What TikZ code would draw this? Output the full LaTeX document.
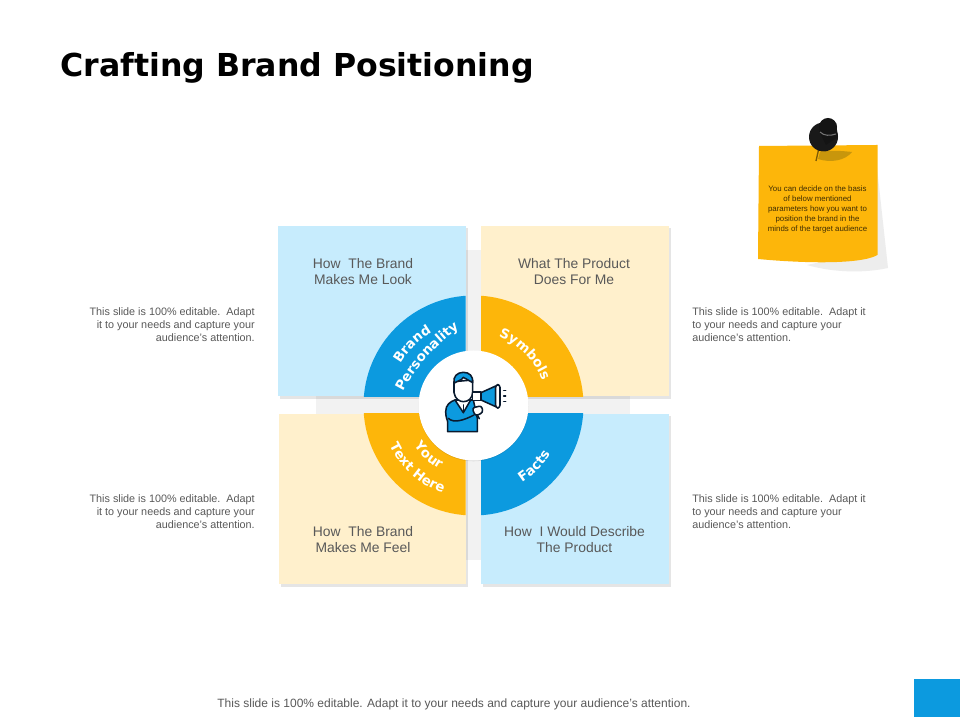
\documentclass[tikz,border=0pt]{standalone}
\usepackage{fontspec}
\setmainfont{Liberation Sans}
\newfontfamily\arcfont{DejaVu Sans}
\usetikzlibrary{calc}
\usetikzlibrary{shadows}
\usetikzlibrary{decorations.text}
\definecolor{skyfill}{HTML}{C7ECFD}
\definecolor{creamfill}{HTML}{FFF0CC}
\definecolor{bluefill}{HTML}{0C9ADF}
\definecolor{amberfill}{HTML}{FDB60A}
\definecolor{pinshade}{HTML}{C8960C}
\definecolor{bandfill}{HTML}{F2F2F2}
\definecolor{bodytext}{HTML}{595959}
\definecolor{iconline}{HTML}{0A1A2E}
\newcommand{\arclabel}[1]{|\bfseries\arcfont\fontsize{10}{12}\selectfont\color{white}|#1}
\begin{document}
\begin{tikzpicture}[x=.75pt,y=.75pt,
	sidetext/.style={font=\fontsize{8.1}{9.75}\selectfont,text=bodytext,inner sep=0pt},
	cardtext/.style={font=\fontsize{10.4}{12}\selectfont,text=bodytext,align=center,inner sep=0pt},
	card/.style={drop shadow={shadow xshift=1.6pt,shadow yshift=-1.6pt,fill=black,opacity=.1}},
	arctext/.style={decorate,decoration={text along path,text align=center,text={#1}}},
	iconpart/.style={draw=iconline,line width=1.15pt,line join=round,line cap=round}]
	\useasboundingbox (0,0) rectangle (960,720);
	\fill[white] (0,0) rectangle (960,720);
	\coordinate (ctr) at (473.5,314.5);
	\node[anchor=base west,inner sep=0pt,font=\arcfont\bfseries\fontsize{23.7}{28}\selectfont] (title) at (60,643) {Crafting Brand Positioning};
	% grey cross behind the cards
	\fill[bandfill] (316,306) rectangle (630,323.5);
	\fill[bandfill] (465,160) rectangle (481,470);
	% cards and their quarter rings
	\foreach \xa/\ya/\xb/\yb/\cardcol/\ringcol in {278/323.5/465.5/494/skyfill/bluefill,481/323.5/669/494/creamfill/amberfill,279/135.5/465.5/306/creamfill/amberfill,481/135.5/669/306/skyfill/bluefill}{
		\fill[\cardcol,card] (\xa,\ya) rectangle (\xb,\yb);
		\begin{scope}
			\clip (\xa,\ya) rectangle (\xb,\yb);
			\fill[\ringcol] (ctr) circle[radius=110];
		\end{scope}
	}
	\fill[white,drop shadow={shadow xshift=0pt,shadow yshift=-.6pt,fill=black,opacity=.1}] (ctr) circle[radius=55];
	% card labels
	\node[cardtext] (look) at (363,448) {How\ \ The Brand\\Makes Me Look};
	\node[cardtext] (does) at (574,448) {What The Product\\Does For Me};
	\node[cardtext] (feel) at (363,180) {How\ \ The Brand\\Makes Me Feel};
	\node[cardtext] (describe) at (574.5,180) {How\ \ I Would Describe\\The Product};
	% labels on the rings
	\path[arctext=\arclabel{Brand}] ($(ctr)+(180:84)$) arc[start angle=180,end angle=90,radius=84];
	\path[arctext=\arclabel{Personality}] (400,322) .. controls (412,350) and (438,378) .. (465,395);
	\path[arctext=\arclabel{Symbols}] ($(ctr)+(90:73)$) arc[start angle=90,end angle=0,radius=73];
	\path[arctext=\arclabel{Your}] ($(ctr)+(183:72)$) arc[start angle=183,end angle=273,radius=72];
	\path[arctext=\arclabel{Text Here}] ($(ctr)+(183:93)$) arc[start angle=183,end angle=273,radius=93];
	\path[arctext=\arclabel{Facts}] ($(ctr)+(-90:91)$) arc[start angle=-90,end angle=0,radius=91];
	% side texts
	\node[sidetext,anchor=east,align=right] (noteul) at (255,395) {This slide is 100\% editable.\ \ Adapt\\it to your needs and capture your\\audience's attention.};
	\node[sidetext,anchor=west,align=left] (noteur) at (692,395) {This slide is 100\% editable.\ \ Adapt it\\to your needs and capture your\\audience's attention.};
	\node[sidetext,anchor=east,align=right] (notell) at (255,208) {This slide is 100\% editable.\ \ Adapt\\it to your needs and capture your\\audience's attention.};
	\node[sidetext,anchor=west,align=left] (notelr) at (692,208) {This slide is 100\% editable.\ \ Adapt it\\to your needs and capture your\\audience's attention.};
	% sticky note
	\fill[black!7] (877,552) -- (888,452) .. controls (865,447) and (835,447) .. (807,455) -- (877,470) -- cycle;
	\fill[amberfill] (759,574) -- (877.5,575) -- (877.5,465) .. controls (860,455) and (800,457) .. (758,461) -- cycle;
	\node[font=\fontsize{5.9}{7.5}\selectfont,text=black!75!amberfill,align=center,inner sep=0pt] (stickytext) at (817.5,510.5) {You can decide on the basis\\of below mentioned\\parameters how you want to\\position the brand in the\\minds of the target audience};
	% push pin
	\fill[pinshade] (820,568) .. controls (832,570) and (843,569) .. (852,568) .. controls (845,559) and (830,557) .. (818,561) -- cycle;
	\draw[black!50!amberfill,line width=1pt] (818.5,570) -- (816,559);
	\fill[black!90] (823.5,583) circle[radius=14.5];
	\fill[black!92] (828,593) circle[radius=9];
	\fill[black!92] (819,589) -- (836,597) -- (838,583) -- (826,575) -- cycle;
	\draw[black!55,line width=.8pt] (820,588) .. controls (824,584) and (830,584) .. (836,586);
	% person with megaphone
	\begin{scope}[shift={(400,370)},xscale=1/3,yscale=-1/3]
		\filldraw[iconpart,fill=bluefill] (165,150) .. controls (150,155) and (137,165) .. (137,185) .. controls (137,200) and (141,208) .. (143,215) -- (143,245) -- (232,245) -- (232,205) -- (220,150) -- cycle;
		\filldraw[iconpart,fill=white] (165,150) -- (190,188) -- (212,150) -- cycle;
		\draw[iconpart] (190,165) -- (190,188);
		\draw[iconpart] (145,205) .. controls (160,220) and (190,212) .. (222,195);
		\filldraw[iconpart,fill=white] (162,95) -- (162,128) .. controls (165,148) and (180,155) .. (190,155) .. controls (205,155) and (218,145) .. (218,125) -- (218,90) -- cycle;
		\filldraw[iconpart,fill=bluefill] (162,100) .. controls (158,80) and (172,67) .. (190,67) .. controls (208,67) and (220,78) .. (218,98) .. controls (208,92) and (195,85) .. (190,82) .. controls (185,92) and (172,92) .. (162,100) -- cycle;
		\filldraw[iconpart,fill=bluefill] (243,128) -- (287,108) -- (287,170) -- (243,150) -- cycle;
		\filldraw[iconpart,fill=white] (218,126) rectangle (243,152);
		\filldraw[iconpart,fill=white,rounded corners=2pt] (287,104) rectangle (300,174);
		\draw[iconpart] (232,195) -- (238,206);
		\filldraw[iconpart,fill=white,rounded corners=2pt] (216,174) -- (245,167) -- (249,188) -- (226,198) -- cycle;
		\draw[iconpart] (311,122) -- (317,122);
		\draw[iconpart] (311,138) -- (317,138);
		\draw[iconpart] (311,155) -- (317,155);
	\end{scope}
	% footer
	\node[font=\fontsize{9}{10}\selectfont,text=bodytext,inner sep=0pt] (footer) at (454,16) {This slide is 100\% editable. Adapt it to your needs and capture your audience's attention.};
	\fill[bluefill] (914,3) rectangle (960,41);
\end{tikzpicture}
\end{document}
